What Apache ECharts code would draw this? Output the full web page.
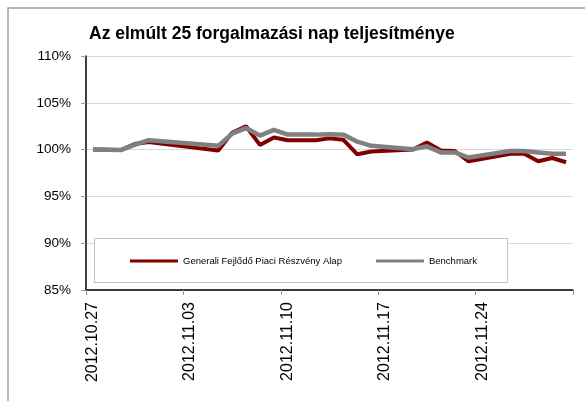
<!DOCTYPE html>
<html>
<head>
<meta charset="utf-8">
<script src="https://cdn.jsdelivr.net/npm/echarts@6/dist/echarts.min.js"></script>
<style>
  html, body { margin: 0; padding: 0; background: #fff; }
  #chart { width: 585px; height: 401px; }
</style>
</head>
<body>
<div id="chart"></div>
<script>
// trading days (Oct 27 and Nov 10 were working Saturdays)
const dates = ['2012.10.27', '2012.10.29', '2012.10.30', '2012.10.31', '2012.11.05',
  '2012.11.06', '2012.11.07', '2012.11.08', '2012.11.09', '2012.11.10',
  '2012.11.12', '2012.11.13', '2012.11.14', '2012.11.15', '2012.11.16',
  '2012.11.19', '2012.11.20', '2012.11.21', '2012.11.22', '2012.11.23',
  '2012.11.26', '2012.11.27', '2012.11.28', '2012.11.29', '2012.11.30'];
const fund = [100.0, 99.95, 100.6, 100.8, 99.9, 101.8, 102.5, 100.5, 101.3, 101.0,
  101.0, 101.2, 101.05, 99.5, 99.8, 100.0, 100.75, 99.9, 99.85, 98.75,
  99.55, 99.55, 98.75, 99.1, 98.65];
const bench = [100.0, 99.95, 100.5, 101.0, 100.4, 101.7, 102.3, 101.5, 102.1, 101.6,
  101.6, 101.65, 101.6, 100.85, 100.4, 100.05, 100.35, 99.7, 99.7, 99.15,
  99.85, 99.85, 99.7, 99.55, 99.55];
const seriesNames = ['Generali Fejlődő Piaci Részvény Alap', 'Benchmark'];
const startDate = '2012.10.27';
const dayCount = 35;   // axis runs to 2012.12.01
const tickStep = 7;

const DAY = 86400000;
const parse = s => { const p = s.split('.').map(Number); return Date.UTC(p[0], p[1] - 1, p[2]); };
const t0 = parse(startDate);
// x = day offset from start, point sits in the middle of its day
const dayX = s => (parse(s) - t0) / DAY + 0.5;
const fmt = d => {
  const dt = new Date(t0 + d * DAY);
  const pad = n => (n < 10 ? '0' : '') + n;
  return dt.getUTCFullYear() + '.' + pad(dt.getUTCMonth() + 1) + '.' + pad(dt.getUTCDate());
};

const chart = echarts.init(document.getElementById('chart'));
const font = '"Liberation Sans", Arial, sans-serif';

const option = {
  animation: false,
  backgroundColor: '#fff',
  textStyle: { fontFamily: font },
  graphic: [{
    type: 'rect',
    shape: { x: 8, y: 8, width: 600, height: 420 },
    style: { fill: 'none', stroke: '#a0a0a0', lineWidth: 1.5 },
    z: -1
  }, {
    type: 'rect',
    shape: { x: 94.5, y: 238.5, width: 413, height: 44 },
    style: { fill: '#fff', stroke: '#c0c0c0', lineWidth: 1 },
    z: 50
  }],
  title: {
    text: 'Az elmúlt 25 forgalmazási nap teljesítménye',
    left: 89,
    top: 25,
    padding: 0,
    textStyle: { fontFamily: font, fontSize: 17.5, fontWeight: 'bold', color: '#000' }
  },
  legend: {
    data: seriesNames,
    left: 130,
    top: 256,
    padding: 0,
    itemWidth: 48,
    itemHeight: 3,
    itemGap: 34,
    icon: 'rect',
    z: 60,
    textStyle: { fontFamily: font, fontSize: 9.5, color: '#000' }
  },
  grid: { left: 86, right: 12, top: 56, bottom: 111 },
  xAxis: {
    type: 'value',
    min: 0,
    max: dayCount,
    interval: tickStep,
    axisLine: { lineStyle: { color: '#000', width: 1.5 } },
    axisTick: { show: true, length: 5, lineStyle: { color: '#999' } },
    splitLine: { show: false },
    axisLabel: {
      rotate: 90,
      margin: 12,
      fontSize: 16,
      lineHeight: 13,
      verticalAlign: 'top',
      color: '#000',
      fontFamily: font,
      formatter: v => (v >= dayCount ? '' : fmt(v))
    }
  },
  yAxis: {
    type: 'value',
    min: 85,
    max: 110,
    interval: 5,
    axisLine: { show: true, lineStyle: { color: '#000', width: 1.5 } },
    axisTick: { show: true, length: 5, lineStyle: { color: '#999' } },
    splitLine: { lineStyle: { color: '#d9d9d9', width: 1 } },
    axisLabel: { margin: 15, fontSize: 13.5, color: '#000', fontFamily: font, formatter: '{value}%' }
  },
  series: [{
    name: seriesNames[0],
    type: 'line',
    data: dates.map((d, i) => [dayX(d), fund[i]]),
    showSymbol: false,
    color: '#800000',
    lineStyle: { width: 4, color: '#800000' }
  }, {
    name: seriesNames[1],
    type: 'line',
    data: dates.map((d, i) => [dayX(d), bench[i]]),
    showSymbol: false,
    color: '#808080',
    lineStyle: { width: 4.5, color: '#808080' }
  }]
};

chart.setOption(option);
</script>
</body>
</html>
